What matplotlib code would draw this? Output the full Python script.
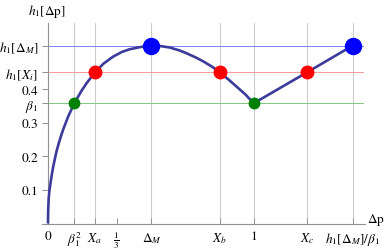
import numpy as np
import matplotlib
matplotlib.use("Agg")
import matplotlib.pyplot as plt

plt.rcParams['font.family'] = ['STIXGeneral', 'DejaVu Serif']
plt.rcParams['mathtext.fontset'] = 'stix'

# curve h1(dp), points
curve_x = [0.0, 0.001, 0.0033, 0.007, 0.013, 0.019, 0.026, 0.034, 0.042, 0.052, 0.062, 0.074, 0.0985,
           0.128, 0.163, 0.188, 0.228, 0.27, 0.317, 0.36, 0.398, 0.45, 0.503, 0.55, 0.592,
           0.641, 0.673, 0.72, 0.754, 0.8, 0.835, 0.875, 0.916, 0.96, 1.0, 1.259, 1.482]
curve_y = [0.0, 0.038, 0.073, 0.098, 0.123, 0.147, 0.171, 0.194, 0.216, 0.238, 0.258, 0.28, 0.319,
           0.358, 0.395, 0.418, 0.45, 0.476, 0.497, 0.511, 0.519, 0.5255, 0.53, 0.528, 0.524,
           0.515, 0.507, 0.494, 0.483, 0.466, 0.45, 0.43, 0.408, 0.384, 0.358, 0.45, 0.53]

beta1 = 0.358
h_xi = 0.45
h_dm = 0.53

# dots
green_x = [0.128, 1.0]
green_y = [beta1, beta1]
red_x = [0.228, 0.835, 1.259]
red_y = [h_xi, h_xi, h_xi]
blue_x = [0.503, 1.482]
blue_y = [h_dm, h_dm]

xtick_pos = [0, 0.128, 0.228, 1/3, 0.503, 0.835, 1.0, 1.259, 1.482]
xtick_lab = ['0', r'$\beta_1^2$', r'$X_a$', r'$\frac{1}{3}$', r'$\Delta_M$', r'$X_b$', '1', r'$X_c$',
             r'$h_1[\Delta_M]/\beta_1$']
grid_x = [0.128, 0.228, 0.503, 0.835, 1.0, 1.259, 1.482]
ytick_pos = [0.1, 0.2, 0.3, 0.4, beta1, h_xi, h_dm]
ytick_lab = ['0.1', '0.2', '0.3', '0.4', r'$\beta_1$', r'$h_1[X_i]$', r'$h_1[\Delta_M]$']

fig = plt.figure(figsize=(3.9, 2.51), dpi=100)
ax = fig.add_axes([41.8/390, 26.5/251, 323/390, 200.5/251])
ax.set_xlim(-0.03, 1.54)
ax.set_ylim(0, 0.597)

for gx in grid_x:
    ax.plot([gx, gx], [0, 0.597], color='#cccccc', lw=0.8, zorder=1)
ax.plot([0, 1.53], [h_dm, h_dm], color='#8080ff', lw=0.7, zorder=2)
ax.plot([0, 1.53], [h_xi, h_xi], color='#ff9a9a', lw=0.7, zorder=2)
ax.plot([0, 1.53], [beta1, beta1], color='#80c880', lw=0.7, zorder=2)

ax.plot(curve_x, curve_y, color='#3b3b9b', lw=1.9, zorder=3, solid_capstyle='butt', solid_joinstyle='round')
ax.plot(blue_x, blue_y, 'o', color='#0000ff', ms=11.5, zorder=4)
ax.plot(red_x, red_y, 'o', color='#ff0000', ms=9, zorder=4)
ax.plot(green_x, green_y, 'o', color='#008000', ms=7.5, zorder=4)

ax.spines['top'].set_visible(False)
ax.spines['right'].set_visible(False)
ax.spines['left'].set_position(('data', 0))
for s in ['left', 'bottom']:
    ax.spines[s].set_color('#909090')
    ax.spines[s].set_linewidth(0.8)

ax.set_xticks(xtick_pos)
ax.set_xticklabels(xtick_lab, fontsize=9.5)
ax.set_yticks(ytick_pos)
ax.set_yticklabels(ytick_lab, fontsize=9.5)
ax.tick_params(axis='both', colors='#909090', labelcolor='black', length=4, width=0.7, pad=3)
ax.tick_params(axis='x', direction='in', pad=4.5)

fig.text(47/390, 1 - 12/251, r'$h_1[\Delta\mathrm{p}]$', fontsize=9.5, ha='center', va='center')
fig.text(376/390, 1 - 220/251, r'$\Delta\mathrm{p}$', fontsize=9.5, ha='center', va='center')

fig.savefig('out.png', dpi=100)
